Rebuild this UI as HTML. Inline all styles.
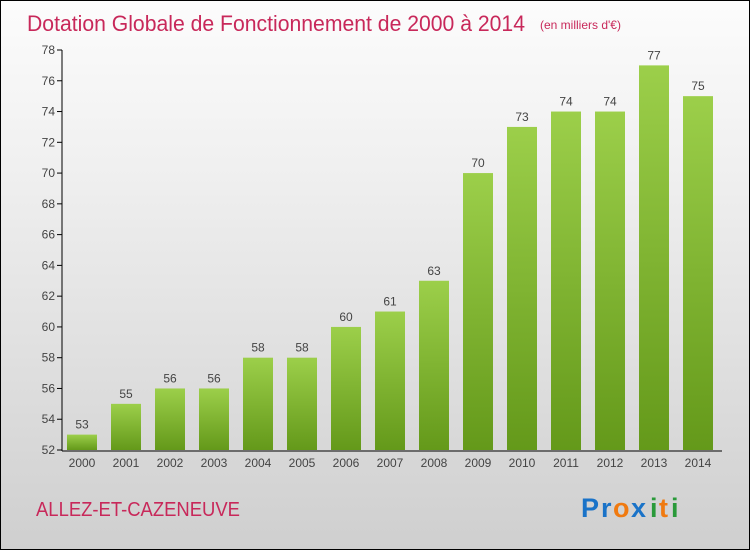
<!DOCTYPE html>
<html><head><meta charset="utf-8"><style>
body{margin:0;width:750px;height:550px;overflow:hidden;font-family:"Liberation Sans",sans-serif}
#wrap{position:absolute;left:0;top:0;width:748px;height:548px;border:1px solid #000;background:linear-gradient(#fcfcfc,#f0f0f0 30%,#cfcfcf)}
</style></head><body>
<div id="wrap">
<svg width="748" height="548" id="svg">
<defs><linearGradient id="g" x1="0" y1="0" x2="0" y2="1"><stop offset="0" stop-color="#9ccf4a"/><stop offset="1" stop-color="#64991a"/></linearGradient></defs>
<text x="26" y="30" font-size="22" fill="#c8285a" textLength="498" lengthAdjust="spacingAndGlyphs">Dotation Globale de Fonctionnement de 2000 à 2014</text>
<text x="539" y="28" font-size="12" fill="#c8285a">(en milliers d'€)</text>
<text x="35" y="515" font-size="20" fill="#c8285a" textLength="204" lengthAdjust="spacingAndGlyphs">ALLEZ-ET-CAZENEUVE</text>
<g font-size="27" font-weight="bold">
<text x="580" y="516" fill="#1a73c8">P</text><text x="600" y="516" fill="#1a73c8">r</text><text x="612" y="516" fill="#f07a10">o</text><text x="630" y="516" fill="#1a73c8">x</text><text x="649" y="516" fill="#2a9a3a">i</text><text x="658" y="516" fill="#f07a10">t</text><text x="670" y="516" fill="#2a9a3a">i</text></g>
<g id="plot"></g>
</svg></div>
<script>
const years=["2000","2001","2002","2003","2004","2005","2006","2007","2008","2009","2010","2011","2012","2013","2014"];
const values=[53,55,56,56,58,58,60,61,63,70,73,74,74,77,75];
const yTicks=[52,54,56,58,60,62,64,66,68,70,72,74,76,78];
const NS="http://www.w3.org/2000/svg";
const g=document.getElementById('plot');
const y=v=>449-(v-52)*(400/26);
const x=i=>81+i*44;
function el(t,a){const e=document.createElementNS(NS,t);for(const k in a)e.setAttribute(k,a[k]);g.appendChild(e);return e;}
yTicks.forEach(t=>{
 let l=el('line',{x1:56,x2:61,y1:y(t),y2:y(t),stroke:'#000'});
 
 
 let tx=el('text',{x:54,y:y(t)+4,'text-anchor':'end','font-size':12,fill:'#444'});tx.textContent=t;
 
 
});
values.forEach((v,i)=>{
 let r=el('rect',{x:x(i)-15,y:y(v),width:30,height:y(52)-y(v),fill:'url(#g)'});
 
 
 let t=el('text',{x:x(i),y:y(v)-6,'text-anchor':'middle','font-size':12,fill:'#444'});t.textContent=v;
 
 
 let c=el('text',{x:x(i),y:466,'text-anchor':'middle','font-size':12,fill:'#444'});c.textContent=years[i];
 
 
});
let ya=el('line',{x1:61,x2:61,y1:y(78),y2:450,stroke:'#000'});


let xa=el('line',{x1:61,x2:721,y1:450,y2:450,stroke:'#000'});


</script>
</body></html>
